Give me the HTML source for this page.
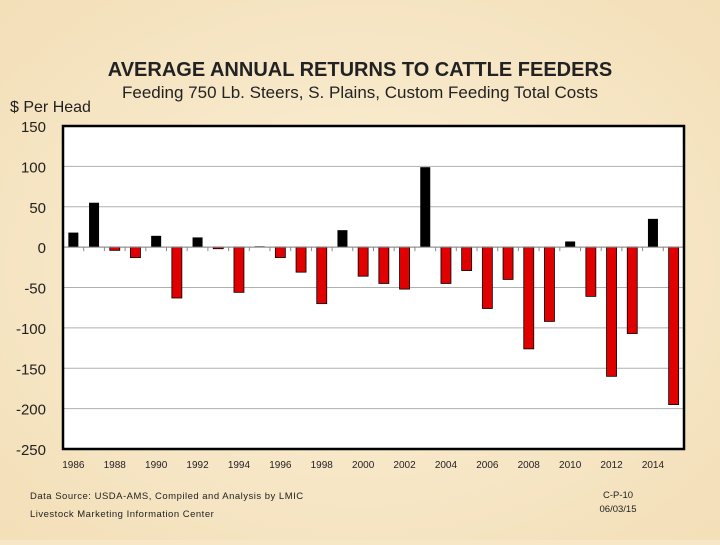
<!DOCTYPE html>
<html><head><meta charset="utf-8"><style>
body{margin:0;width:720px;height:540px;overflow:hidden;background:#f7e7c6;font-family:"Liberation Sans",sans-serif;}
</style></head><body>
<svg width="720" height="540" xmlns="http://www.w3.org/2000/svg">
<defs><radialGradient id="bg" cx="50%" cy="50%" r="70%"><stop offset="0" stop-color="#fbf0d8"/><stop offset="1" stop-color="#f3dfb8"/></radialGradient></defs>
<rect width="720" height="540" fill="url(#bg)"/>
<text x="360" y="76" text-anchor="middle" font-size="20" font-weight="bold" fill="#222">AVERAGE ANNUAL RETURNS TO CATTLE FEEDERS</text>
<text x="360" y="98" text-anchor="middle" font-size="17" fill="#222">Feeding 750 Lb. Steers, S. Plains, Custom Feeding Total Costs</text>
<text x="10" y="112" font-size="16" fill="#222">$ Per Head</text>
<rect x="63" y="126" width="621" height="323" fill="#fff"/>
<g id="grid"></g><g id="bars"></g><g id="axes"></g>
<rect x="63" y="126" width="621" height="323" fill="none" stroke="#000" stroke-width="2.5"/>
<text x="30" y="499" font-size="9.5" letter-spacing="0.5" fill="#222">Data Source:  USDA-AMS, Compiled and Analysis by LMIC</text>
<text x="30" y="517" font-size="9.5" letter-spacing="0.5" fill="#222">Livestock Marketing Information Center</text>
<text x="618" y="498" text-anchor="middle" font-size="9.5" fill="#222">C-P-10</text>
<text x="618" y="512" text-anchor="middle" font-size="9.5" fill="#222">06/03/15</text>
</svg>
<script>
const years=[1986,1987,1988,1989,1990,1991,1992,1993,1994,1995,1996,1997,1998,1999,2000,2001,2002,2003,2004,2005,2006,2007,2008,2009,2010,2011,2012,2013,2014,2015];
const returns=[18,55,-4,-13,14,-63,12,-2,-56,1,-13,-31,-70,21,-36,-45,-52,99,-45,-29,-76,-40,-126,-92,7,-61,-160,-107,35,-195];
const yTicks=[150,100,50,0,-50,-100,-150,-200,-250];
const xLabels=[1986,1988,1990,1992,1994,1996,1998,2000,2002,2004,2006,2008,2010,2012,2014];
const NS="http://www.w3.org/2000/svg";
const X0=63,W=621,Y0=126,H=323,YMAX=150,YMIN=-250;
const bw=W/years.length;
const y=v=>Y0+(YMAX-v)/(YMAX-YMIN)*H;
const xc=i=>X0+bw*(i+0.5);
function mk(t,a,p){const e=document.createElementNS(NS,t);for(const k in a)e.setAttribute(k,a[k]);p.appendChild(e);return e;}
const grid=document.getElementById('grid'),bars=document.getElementById('bars'),axes=document.getElementById('axes');
yTicks.forEach(v=>{
 const l=mk('line',{x1:X0,x2:X0+W,y1:y(v),y2:y(v),stroke:'#b0b0b0','stroke-width':1},grid);
 
 
 const t=mk('text',{x:46,y:y(v)+6,'text-anchor':'end','font-size':15,fill:'#222'},axes);
 t.textContent=v;
 
 
});
mk('line',{x1:X0,x2:X0+W,y1:y(0),y2:y(0),stroke:'#888','stroke-width':1},axes);
years.forEach((yr,i)=>{
 const tk=mk('line',{x1:X0+bw*(i+1),x2:X0+bw*(i+1),y1:y(0),y2:y(0)+4,stroke:'#888'},axes);
 
 
 const v=returns[i];
 const r=mk('rect',{x:xc(i)-5,y:Math.min(y(v),y(0)),width:10,height:Math.max(Math.abs(y(v)-y(0)),1),fill:v>=0?'#000':'#e00000',stroke:'#000','stroke-width':v>=0?0:0.8},bars);
 
 
});
xLabels.forEach(yr=>{
 const i=years.indexOf(yr);
 const t=mk('text',{x:xc(i),y:468,'text-anchor':'middle','font-size':10,fill:'#222'},axes);
 t.textContent=yr;
 
 
});
</script>
</body></html>
